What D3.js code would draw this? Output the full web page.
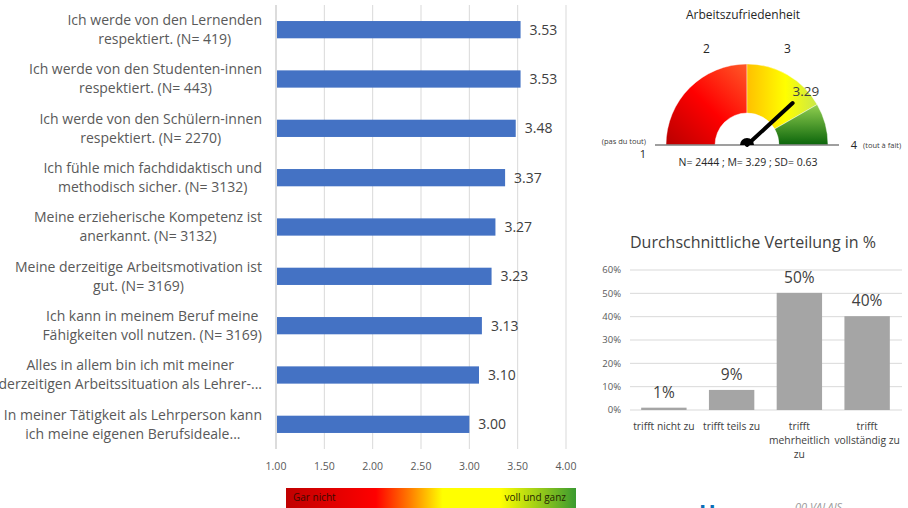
<!DOCTYPE html>
<html>
<head>
<meta charset="utf-8">
<script src="https://cdn.jsdelivr.net/npm/d3@7"></script>
<style>
    body { margin: 0; background: #fff; }
    svg { display: block; font-family: "Open Sans", sans-serif; }
</style>
</head>
<body>
<svg id="chart" width="908" height="508"></svg>
<script>
(function () {
    'use strict';

    // --- data ---
    var itemLabels = [
        ["Ich werde von den Lernenden", "respektiert. (N= 419)"],
        ["Ich werde von den Studenten-innen", "respektiert. (N= 443)"],
        ["Ich werde von den Schülern-innen", "respektiert. (N= 2270)"],
        ["Ich fühle mich fachdidaktisch und", "methodisch sicher. (N= 3132)"],
        ["Meine erzieherische Kompetenz ist", "anerkannt. (N= 3132)"],
        ["Meine derzeitige Arbeitsmotivation ist", "gut. (N= 3169)"],
        ["Ich kann in meinem Beruf meine", "Fähigkeiten voll nutzen. (N= 3169)"],
        ["Alles in allem bin ich mit meiner", "derzeitigen Arbeitssituation als Lehrer-..."],
        ["In meiner Tätigkeit als Lehrperson kann", "ich meine eigenen Berufsideale..."]
    ];
    var itemMeans = [3.53, 3.53, 3.48, 3.37, 3.27, 3.23, 3.13, 3.10, 3.00];
    var meanTicks = [1.00, 1.50, 2.00, 2.50, 3.00, 3.50, 4.00];

    var gaugeTitle = "Arbeitszufriedenheit";
    var gaugeBands = [1, 2.5, 3.5, 4];
    var gaugeTickValues = [2, 3];
    var gaugeValue = 3.29;
    var gaugeStats = "N= 2444 ; M= 3.29 ; SD= 0.63";

    var distTitle = "Durchschnittliche Verteilung in %";
    var distCategories = [
        ["trifft nicht zu"],
        ["trifft teils zu"],
        ["trifft", "mehrheitlich", "zu"],
        ["trifft", "vollständig zu"]
    ];
    var distShares = [0.010, 0.086, 0.502, 0.402];
    var distTicks = [0, 0.1, 0.2, 0.3, 0.4, 0.5, 0.6];

    var svg = d3.select("#chart");
    var defs = svg.append("defs");

    // ================= left: horizontal bars =================
    var x = d3.scaleLinear().domain([1, 4]).range([276, 566]);
    var y = d3.scaleBand()
        .domain(d3.range(itemMeans.length))
        .range([5, 449])
        .paddingInner(0.65)
        .paddingOuter(0.325);

    var left = svg.append("g");

    left.selectAll("line.grid")
        .data(meanTicks)
        .enter()
        .append("line")
        .attr("class", "grid")
        .attr("x1", function (d) { return x(d); })
        .attr("x2", function (d) { return x(d); })
        .attr("y1", 5)
        .attr("y2", 449)
        .style("stroke", "#d9d9d9")
        .style("stroke-width", function (d) { return d === 1 ? 1.8 : 1; });

    left.selectAll("text.tick")
        .data(meanTicks)
        .enter()
        .append("text")
        .attr("class", "tick")
        .attr("x", function (d) { return x(d); })
        .attr("y", 470)
        .attr("text-anchor", "middle")
        .style("font-size", "10.5px")
        .style("fill", "#595959")
        .text(d3.format(".2f"));

    left.selectAll("rect.bar")
        .data(itemMeans)
        .enter()
        .append("rect")
        .attr("class", "bar")
        .attr("x", x(1) + 1)
        .attr("y", function (d, i) { return y(i); })
        .attr("width", function (d) { return x(d) - x(1) - 1; })
        .attr("height", y.bandwidth())
        .style("fill", "#4472c4");

    left.selectAll("text.val")
        .data(itemMeans)
        .enter()
        .append("text")
        .attr("class", "val")
        .attr("x", function (d) { return x(d) + 9; })
        .attr("y", function (d, i) { return y(i) + y.bandwidth() / 2; })
        .attr("dy", "0.35em")
        .style("font-size", "14px")
        .style("fill", "#404040")
        .text(d3.format(".2f"));

    // category labels: block right-aligned, lines centred within block
    var labelRight = 262;
    left.selectAll("g.lab")
        .data(itemLabels)
        .enter()
        .append("g")
        .attr("class", "lab")
        .each(function (lines, i) {
            var cy = y(i) + y.bandwidth() / 2;
            var texts = d3.select(this).selectAll("text")
                .data(lines)
                .enter()
                .append("text")
                .attr("y", function (d, k) { return cy + (k - (lines.length - 1) / 2) * 19; })
                .attr("dy", "0.35em")
                .attr("text-anchor", "middle")
                .style("font-size", "14px")
                .style("fill", "#595959")
                .text(function (d) { return d; });
            var w = 0;
            texts.each(function () { w = Math.max(w, this.getComputedTextLength()); });
            texts.attr("x", labelRight - w / 2);
        });

    // colour legend strip
    var legGrad = defs.append("linearGradient").attr("id", "legGrad");
    [["0", "#c00000"], ["0.31", "#ff0000"], ["0.43", "#ff8000"], ["0.54", "#ffff00"],
     ["0.74", "#ffff00"], ["1", "#3a9a30"]].forEach(function (s) {
        legGrad.append("stop").attr("offset", s[0]).attr("stop-color", s[1]);
    });
    svg.append("rect")
        .attr("x", 286).attr("y", 488)
        .attr("width", 290).attr("height", 24)
        .style("fill", "url(#legGrad)");
    svg.append("text")
        .attr("x", 293).attr("y", 501)
        .style("font-size", "10px").style("fill", "#3a0a00")
        .text("Gar nicht");
    svg.append("text")
        .attr("x", 566).attr("y", 501)
        .attr("text-anchor", "end")
        .style("font-size", "10px").style("fill", "#262600")
        .text("voll und ganz");

    // ================= top right: gauge =================
    var cx = 747, cy = 145, rOut = 81, rIn = 32;
    var ang = d3.scaleLinear().domain([1, 4]).range([-Math.PI / 2, Math.PI / 2]);
    var gauge = svg.append("g").attr("transform", "translate(" + cx + "," + cy + ")");

    var gradDefs = [
        { id: "gRed", x1: 0, y1: 1, x2: 1, y2: 0, stops: [["0", "#b80000"], ["0.5", "#ff0000"], ["1", "#ff5a28"]] },
        { id: "gYel", x1: 0, y1: 0.5, x2: 1, y2: 0.5, stops: [["0", "#ffc000"], ["0.55", "#ffff00"], ["1", "#c9e84a"]] },
        { id: "gGrn", x1: 0, y1: 0, x2: 0, y2: 1, stops: [["0", "#92d050"], ["1", "#0b650b"]] }
    ];
    gradDefs.forEach(function (g) {
        var lg = defs.append("linearGradient").attr("id", g.id)
            .attr("x1", g.x1).attr("y1", g.y1).attr("x2", g.x2).attr("y2", g.y2);
        g.stops.forEach(function (s) {
            lg.append("stop").attr("offset", s[0]).attr("stop-color", s[1]);
        });
    });

    var arc = d3.arc().innerRadius(rIn).outerRadius(rOut);
    gauge.selectAll("path.band")
        .data(d3.pairs(gaugeBands))
        .enter()
        .append("path")
        .attr("class", "band")
        .attr("d", function (d) { return arc({ startAngle: ang(d[0]), endAngle: ang(d[1]) }); })
        .style("fill", function (d, i) { return "url(#" + gradDefs[i].id + ")"; })
        .style("stroke", "#fff")
        .style("stroke-width", 0.4);

    gauge.append("line")
        .attr("x1", -92).attr("x2", 92)
        .attr("y1", 0).attr("y2", 0)
        .style("stroke", "#7f7f7f")
        .style("stroke-width", 1.5);

    var needleLen = 62;
    gauge.append("line")
        .attr("x1", 0).attr("y1", 0)
        .attr("x2", Math.sin(ang(gaugeValue)) * needleLen)
        .attr("y2", -Math.cos(ang(gaugeValue)) * needleLen)
        .style("stroke", "#000")
        .style("stroke-width", 4)
        .style("stroke-linecap", "round");
    gauge.append("path")
        .attr("d", d3.arc().innerRadius(0).outerRadius(7)({ startAngle: -Math.PI / 2, endAngle: Math.PI / 2 }))
        .style("fill", "#000");

    gauge.append("text")
        .attr("x", Math.sin(ang(gaugeValue)) * 80)
        .attr("y", -Math.cos(ang(gaugeValue)) * 80)
        .attr("dy", "0.35em")
        .attr("text-anchor", "middle")
        .style("font-size", "13.5px")
        .style("fill", "#404040")
        .text(gaugeValue.toFixed(2));

    gauge.selectAll("text.gt")
        .data(gaugeTickValues)
        .enter()
        .append("text")
        .attr("class", "gt")
        .attr("x", function (d) { return Math.sin(ang(d)) * rOut; })
        .attr("y", -rOut - 11)
        .attr("text-anchor", "middle")
        .style("font-size", "12px")
        .style("fill", "#262626")
        .text(function (d) { return d; });

    gauge.append("text")
        .attr("x", -101).attr("y", -1)
        .attr("text-anchor", "end")
        .style("font-size", "7.5px").style("fill", "#404040")
        .text("(pas du tout)");
    gauge.append("text")
        .attr("x", -104).attr("y", 13)
        .attr("text-anchor", "middle")
        .style("font-size", "11px").style("fill", "#262626")
        .text("1");
    gauge.append("text")
        .attr("x", 107).attr("y", 4)
        .attr("text-anchor", "middle")
        .style("font-size", "11px").style("fill", "#262626")
        .text("4");
    gauge.append("text")
        .attr("x", 116).attr("y", 3)
        .style("font-size", "7.5px").style("fill", "#404040")
        .text("(tout à fait)");
    gauge.append("text")
        .attr("x", 1).attr("y", 21)
        .attr("text-anchor", "middle")
        .style("font-size", "10.5px").style("fill", "#262626")
        .text(gaugeStats);
    svg.append("text")
        .attr("x", 743).attr("y", 19)
        .attr("text-anchor", "middle")
        .style("font-size", "12px").style("fill", "#262626")
        .text(gaugeTitle);

    // ================= bottom right: distribution =================
    var xb = d3.scaleBand().domain(d3.range(distShares.length)).range([630, 901]).paddingInner(0.33).paddingOuter(0.165);
    var yb = d3.scaleLinear().domain([0, 0.6]).range([410, 270]);
    var dist = svg.append("g");

    dist.append("text")
        .attr("x", 753).attr("y", 248)
        .attr("text-anchor", "middle")
        .style("font-size", "16px").style("fill", "#404040")
        .text(distTitle);

    dist.selectAll("line.grid")
        .data(distTicks)
        .enter()
        .append("line")
        .attr("class", "grid")
        .attr("x1", 630).attr("x2", 902)
        .attr("y1", function (d) { return yb(d); })
        .attr("y2", function (d) { return yb(d); })
        .style("stroke", "#d9d9d9")
        .style("stroke-width", 1);

    dist.selectAll("text.tick")
        .data(distTicks)
        .enter()
        .append("text")
        .attr("class", "tick")
        .attr("x", 621)
        .attr("y", function (d) { return yb(d); })
        .attr("dy", "0.35em")
        .attr("text-anchor", "end")
        .style("font-size", "9.5px")
        .style("fill", "#595959")
        .text(d3.format(".0%"));

    dist.selectAll("rect.bar")
        .data(distShares)
        .enter()
        .append("rect")
        .attr("class", "bar")
        .attr("x", function (d, i) { return xb(i); })
        .attr("y", function (d) { return yb(d); })
        .attr("width", xb.bandwidth())
        .attr("height", function (d) { return yb(0) - yb(d); })
        .style("fill", "#a5a5a5");

    dist.selectAll("text.val")
        .data(distShares)
        .enter()
        .append("text")
        .attr("class", "val")
        .attr("x", function (d, i) { return xb(i) + xb.bandwidth() / 2; })
        .attr("y", function (d) { return yb(d) - 10; })
        .attr("text-anchor", "middle")
        .style("font-size", "15.5px")
        .style("fill", "#404040")
        .text(d3.format(".0%"));

    dist.selectAll("g.cat")
        .data(distCategories)
        .enter()
        .append("g")
        .attr("class", "cat")
        .each(function (lines, i) {
            d3.select(this).selectAll("text")
                .data(lines)
                .enter()
                .append("text")
                .attr("x", xb(i) + xb.bandwidth() / 2)
                .attr("y", function (d, k) { return 430 + k * 14; })
                .attr("text-anchor", "middle")
                .style("font-size", "10.3px")
                .style("fill", "#404040")
                .text(function (d) { return d; });
        });

    // logo fragments cut off at the bottom edge
    svg.append("text")
        .attr("x", 699).attr("y", 520)
        .style("font-size", "22px").style("font-weight", "bold")
        .style("fill", "#0a6fb8")
        .text("H");
    svg.append("text")
        .attr("x", 795).attr("y", 511)
        .style("font-size", "11px").style("font-style", "italic")
        .style("fill", "#9a9a9a")
        .text("00 VALAIS");
})();
</script>
</body>
</html>
